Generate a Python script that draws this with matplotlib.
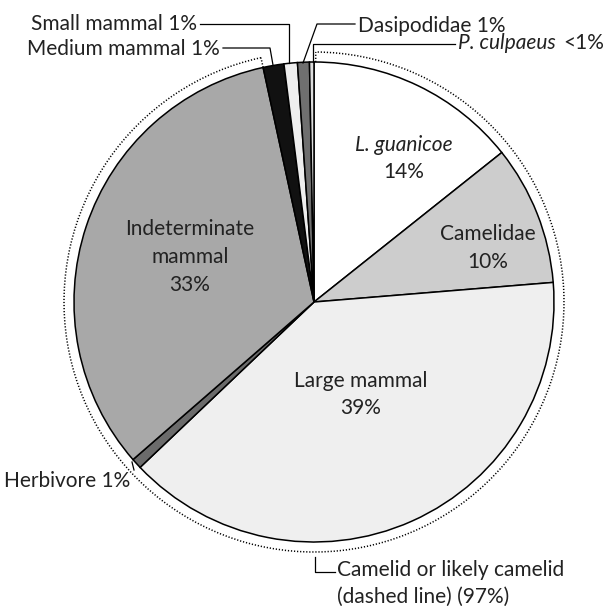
import numpy as np
import matplotlib.pyplot as plt
from matplotlib.patches import Arc

plt.rcParams['font.family'] = ['Lato', 'DejaVu Sans']

# slices, clockwise from 12 o'clock
names = ['L. guanicoe', 'Camelidae', 'Large mammal', 'Herbivore', 'Indeterminate mammal',
         'Medium mammal', 'Small mammal', 'Dasipodidae', 'P. culpaeus']
shares = [14.3, 9.4, 39.2, 0.7, 33.0, 1.4, 0.9, 0.8, 0.3]
shown = ['14%', '10%', '39%', '1%', '33%', '1%', '1%', '1%', '<1%']
colors = ['#ffffff', '#cdcdcd', '#efefef', '#6b6b6b', '#a8a8a8',
          '#111111', '#eeeeee', '#6f6f6f', '#dddddd']
camelid_total = '97%'

W, H = 604, 606
cx, cy, R = 314, H - 302, 240
tc = '#222222'
fs = 15

fig = plt.figure(figsize=(6.04, 6.06), dpi=100)
ax = fig.add_axes([0, 0, 1, 1])
ax.pie(shares, colors=colors, startangle=90, counterclock=False,
       center=(cx, cy), radius=R,
       wedgeprops=dict(edgecolor='black', linewidth=1.1))
ax.set_xlim(0, W)
ax.set_ylim(0, H)
ax.set_aspect('equal')
ax.axis('off')

def Y(y):
    return H - y

# angles of slice boundaries (ccw degrees, matplotlib convention)
cum = np.cumsum([0] + shares) / sum(shares)
bounds = 90 - cum * 360

# dotted arc around the camelid / likely camelid slices
Rd = 250
a_end = bounds[5] + 360
dot = (0, (0.8, 1.2))
ax.add_patch(Arc((cx, cy), 2 * Rd, 2 * Rd, theta1=a_end, theta2=89.6 + 360,
                 linestyle=dot, linewidth=1.1, color='black'))
for a in [89.6, a_end]:
    t = np.radians(a)
    ax.plot([cx + R * np.cos(t), cx + Rd * np.cos(t)],
            [cy + R * np.sin(t), cy + Rd * np.sin(t)],
            linestyle=dot, linewidth=1.1, color='black')

# labels inside the pie
ax.text(404, Y(145), names[0], ha='center', va='center', fontsize=fs, style='italic', color=tc)
ax.text(404, Y(172), shown[0], ha='center', va='center', fontsize=fs, color=tc)
ax.text(488, Y(234), names[1], ha='center', va='center', fontsize=fs, color=tc)
ax.text(488, Y(262), shown[1], ha='center', va='center', fontsize=fs, color=tc)
ax.text(361, Y(381), names[2], ha='center', va='center', fontsize=fs, color=tc)
ax.text(361, Y(408), shown[2], ha='center', va='center', fontsize=fs, color=tc)
ax.text(190, Y(229), 'Indeterminate', ha='center', va='center', fontsize=fs, color=tc)
ax.text(190, Y(257), 'mammal', ha='center', va='center', fontsize=fs, color=tc)
ax.text(190, Y(285), shown[4], ha='center', va='center', fontsize=fs, color=tc)

# outside labels with leader lines
lk = dict(color='black', linewidth=0.9)
ax.text(197, Y(24), names[6] + ' ' + shown[6], ha='right', va='center', fontsize=fs, color=tc)
ax.plot([200, 289, 289], [Y(24), Y(24), Y(63)], **lk)
ax.text(220, Y(49), names[5] + ' ' + shown[5], ha='right', va='center', fontsize=fs, color=tc)
ax.plot([223, 270, 273], [Y(48), Y(48), Y(65)], **lk)
ax.text(358, Y(26), names[7] + ' ' + shown[7], ha='left', va='center', fontsize=fs, color=tc)
ax.plot([355, 317, 303], [Y(24), Y(24), Y(63)], **lk)
ax.text(458, Y(43), names[8], ha='left', va='center', fontsize=fs, style='italic', color=tc)
ax.text(604, Y(43), shown[8], ha='right', va='center', fontsize=fs, color=tc)
ax.plot([455, 313, 313], [Y(44), Y(44), Y(62)], **lk)
ax.text(130, Y(481), names[3] + ' ' + shown[3], ha='right', va='center', fontsize=fs, color=tc)
ax.plot([132, 134], [Y(462), Y(470)], **lk)

ax.plot([315, 315, 335], [Y(557), Y(572), Y(572)], **lk)
ax.text(337, Y(570), 'Camelid or likely camelid', ha='left', va='center', fontsize=fs, color=tc)
ax.text(337, Y(597), '(dashed line) (' + camelid_total + ')', ha='left', va='center', fontsize=fs, color=tc)

fig.savefig('out.png', dpi=100)
